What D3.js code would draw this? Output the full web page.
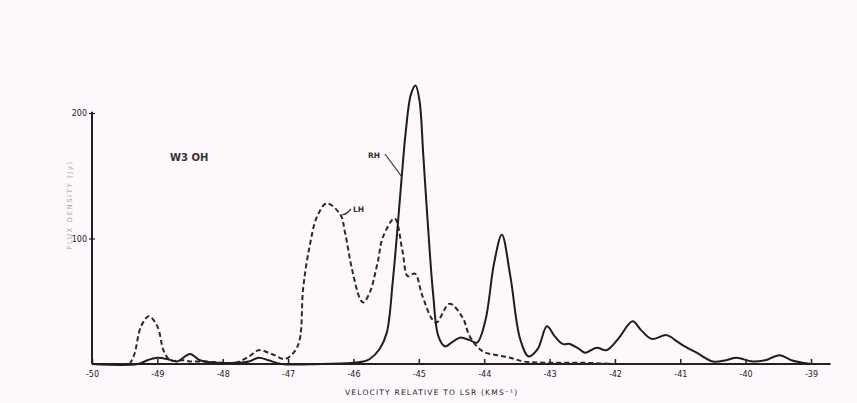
<!DOCTYPE html>
<html>
<head>
<meta charset="utf-8">
<script src="https://cdn.jsdelivr.net/npm/d3@7"></script>
<style>
  html, body { margin: 0; padding: 0; background: #fcf8fc; }
  svg { display: block; }
  text { font-family: "DejaVu Sans", sans-serif; fill: #333; }
</style>
</head>
<body>
<svg id="chart"></svg>
<script>
// RH (solid) profile
const rhVel = [-50, -49.3, -49.15, -49.0, -48.85, -48.7, -48.5, -48.35, -48.1, -47.8, -47.6, -47.45, -47.3, -47.1,
  -46.5, -46.0, -45.85, -45.75, -45.6, -45.49, -45.4, -45.32, -45.26, -45.2, -45.12, -45.05, -44.99, -44.93,
  -44.86, -44.78, -44.7, -44.6, -44.5, -44.37, -44.22, -44.11, -43.98, -43.85, -43.73, -43.6, -43.45, -43.32,
  -43.18, -43.04, -42.92, -42.8, -42.69, -42.55, -42.46, -42.28, -42.13, -41.95, -41.73, -41.6, -41.44, -41.21,
  -41.05, -40.93, -40.75, -40.5, -40.3, -40.14, -39.9, -39.7, -39.48, -39.3, -39.13, -39.0];
const rhFlux = [0, 0, 3, 5, 4, 2, 8, 3, 1, 1, 2, 5, 3, 0,
  0, 1, 2, 4, 12, 25, 65, 112, 150, 185, 215, 222, 210, 165,
  110, 55, 22, 14, 17, 21, 19, 17, 35, 80, 103, 70, 20, 6,
  12, 30, 22, 16, 16, 12, 9, 13, 11, 20, 34, 27, 20, 23,
  18, 14, 9, 2, 3, 5, 2, 3, 7, 3, 1, 0];

// LH (dashed) profile
const lhVel = [-49.42, -49.35, -49.25, -49.13, -49.0, -48.9, -48.8, -48.6, -48.5, -48.3, -48.0, -47.8, -47.6,
  -47.45, -47.25, -47.05, -46.9, -46.82, -46.77, -46.67, -46.56, -46.41, -46.2, -46.13, -46.02, -45.9, -45.85,
  -45.75, -45.63, -45.55, -45.37, -45.25, -45.17, -45.06, -44.95, -44.8, -44.73, -44.53, -44.33, -44.22, -44.02,
  -43.8, -43.6, -43.4, -43.0, -42.5, -42.0];
const lhFlux = [0, 8, 30, 38, 30, 10, 3, 3, 2, 2, 1, 1, 6,
  11, 8, 4, 10, 20, 60, 94, 117, 128, 119, 105, 75, 52, 49,
  57, 81, 101, 116, 90, 70, 72, 55, 36, 33, 48, 37, 22, 10,
  7, 5, 2, 1, 1, 0];

const xTicks = [-50, -49, -48, -47, -46, -45, -44, -43, -42, -41, -40, -39];
const yTicks = [100, 200];

const W = 857, H = 403;
const svg = d3.select('#chart').attr('width', W).attr('height', H);

const x = d3.scaleLinear().domain([-50, -39]).range([92, 811]);
const y = d3.scaleLinear().domain([0, 200]).range([364, 113]);

// axes
const xAxis = svg.append('g').attr('transform', `translate(0,${y(0)})`)
  .call(d3.axisBottom(x).tickValues(xTicks).tickSize(-5).tickPadding(6)
    .tickFormat(d => d3.format('d')(d).replace('\u2212', '-')));
xAxis.select('.domain').remove();
xAxis.selectAll('line').attr('stroke', '#222').attr('stroke-width', 1.5);
xAxis.selectAll('text').attr('font-size', 8).attr('dy', '0.9em').style('fill', '#222');
svg.append('line')
  .attr('x1', x(-50)).attr('x2', x(-38.7))
  .attr('y1', y(0)).attr('y2', y(0))
  .attr('stroke', '#222').attr('stroke-width', 2);

const yAxis = svg.append('g').attr('transform', `translate(${x(-50)},0)`)
  .call(d3.axisLeft(y).tickValues(yTicks).tickSize(4).tickPadding(1));
yAxis.select('.domain').remove();
yAxis.selectAll('line').attr('stroke', '#222').attr('stroke-width', 1.2).attr('x2', 3).attr('x1', -3);
yAxis.selectAll('text').attr('font-size', 8).style('fill', '#222');
svg.append('line')
  .attr('x1', x(-50)).attr('x2', x(-50))
  .attr('y1', y(0)).attr('y2', y(201))
  .attr('stroke', '#222').attr('stroke-width', 2);

// curves (clamped so the spline never dips under the baseline)
const line = d3.line().curve(d3.curveCatmullRom.alpha(0.5)).y(d => Math.min(d[1], y(0)));
svg.append('path')
  .attr('d', line(lhVel.map((v, i) => [x(v), y(lhFlux[i])])))
  .attr('fill', 'none').attr('stroke', '#2a2a2a').attr('stroke-width', 2)
  .attr('stroke-dasharray', '5,3');
svg.append('path')
  .attr('d', line(rhVel.map((v, i) => [x(v), y(rhFlux[i])])))
  .attr('fill', 'none').attr('stroke', '#1e1e1e').attr('stroke-width', 2);

// labels
svg.append('text').attr('x', 170).attr('y', 161)
  .attr('font-size', 10).attr('font-weight', 'bold').text('W3 OH');

svg.append('text').attr('x', 368).attr('y', 158).attr('font-size', 7.5).attr('font-weight', 'bold').text('RH');
svg.append('path').attr('d', `M385,154 L${x(-45.26)},${y(150) + 1}`)
  .attr('stroke', '#333').attr('stroke-width', 1.2).attr('fill', 'none');

svg.append('text').attr('x', 353).attr('y', 212).attr('font-size', 7.5).attr('font-weight', 'bold').text('LH');
svg.append('path').attr('d', `M${x(-46.2) + 2},${y(119)} Q346,215 351,209`)
  .attr('stroke', '#333').attr('stroke-width', 1.2).attr('fill', 'none');

svg.append('text')
  .attr('transform', 'translate(72,205) rotate(-90)')
  .attr('text-anchor', 'middle').attr('font-size', 7).attr('letter-spacing', 1.5)
  .style('fill', '#aaa').text('FLUX DENSITY   (Jy)');

svg.append('text').attr('x', 345).attr('y', 395)
  .attr('font-size', 7.5).attr('letter-spacing', 1.2).style('fill', '#222')
  .text('VELOCITY  RELATIVE  TO  LSR    (KMS\u207B\u00B9)');
</script>
</body>
</html>
